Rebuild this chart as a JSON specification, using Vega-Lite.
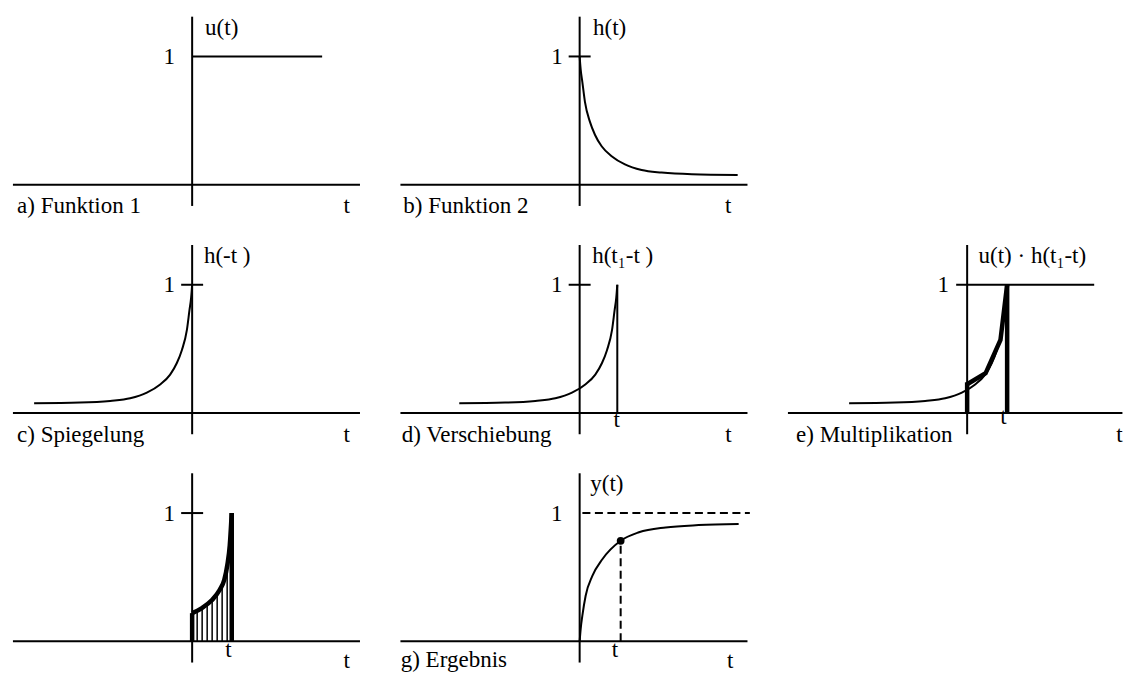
{
  "$schema": "https://vega.github.io/schema/vega-lite/v6.json",
  "padding": 0,
  "background": "white",
  "bounds": "flush",
  "spacing": {"row": 15.3, "column": 38.5},
  "config": {"view": {"stroke": null}},
  "data": {"values": [
    {"p":"a","r":1,"c":1,"k":"ax","t":-4.57,"v":0,"t2":4.28,"v2":0},
    {"p":"a","r":1,"c":1,"k":"ax","t":0,"v":-0.165,"t2":0,"v2":1.31},
    {"p":"a","r":1,"c":1,"k":"ax","t":0,"v":1,"t2":3.315,"v2":1},
    {"p":"a","r":1,"c":1,"k":"txtL","t":0.33,"v":1.17,"s":"u(t)"},
    {"p":"a","r":1,"c":1,"k":"txtL","t":-4.466,"v":-0.222,"s":"a) Funktion 1"},
    {"p":"a","r":1,"c":1,"k":"txtR","t":-0.44,"v":0.94,"s":"1"},
    {"p":"a","r":1,"c":1,"k":"txtC","t":3.943,"v":-0.222,"s":"t"},

    {"p":"b","r":1,"c":2,"k":"ax","t":-4.57,"v":0,"t2":4.28,"v2":0},
    {"p":"b","r":1,"c":2,"k":"ax","t":0,"v":-0.165,"t2":0,"v2":1.31},
    {"p":"b","r":1,"c":2,"k":"ax","t":-0.28,"v":1,"t2":0.28,"v2":1},
    {"p":"b","r":1,"c":2,"k":"txtL","t":0.34,"v":1.17,"s":"h(t)"},
    {"p":"b","r":1,"c":2,"k":"txtL","t":-4.496,"v":-0.222,"s":"b) Funktion 2"},
    {"p":"b","r":1,"c":2,"k":"txtR","t":-0.43,"v":0.94,"s":"1"},
    {"p":"b","r":1,"c":2,"k":"txtC","t":3.785,"v":-0.222,"s":"t"},
    {"p":"b","r":1,"c":2,"k":"curve","t":0,"v":1.0},
    {"p":"b","r":1,"c":2,"k":"curve","t":0.026,"v":0.90},
    {"p":"b","r":1,"c":2,"k":"curve","t":0.069,"v":0.80},
    {"p":"b","r":1,"c":2,"k":"curve","t":0.135,"v":0.646},
    {"p":"b","r":1,"c":2,"k":"curve","t":0.263,"v":0.49},
    {"p":"b","r":1,"c":2,"k":"curve","t":0.39,"v":0.39},
    {"p":"b","r":1,"c":2,"k":"curve","t":0.561,"v":0.30},
    {"p":"b","r":1,"c":2,"k":"curve","t":0.816,"v":0.223},
    {"p":"b","r":1,"c":2,"k":"curve","t":1.155,"v":0.159},
    {"p":"b","r":1,"c":2,"k":"curve","t":1.58,"v":0.115},
    {"p":"b","r":1,"c":2,"k":"curve","t":2.09,"v":0.095},
    {"p":"b","r":1,"c":2,"k":"curve","t":2.86,"v":0.082},
    {"p":"b","r":1,"c":2,"k":"curve","t":4.03,"v":0.077},

    {"p":"c","r":2,"c":1,"k":"ax","t":-4.57,"v":0,"t2":4.28,"v2":0},
    {"p":"c","r":2,"c":1,"k":"ax","t":0,"v":-0.165,"t2":0,"v2":1.31},
    {"p":"c","r":2,"c":1,"k":"ax","t":-0.28,"v":1,"t2":0.28,"v2":1},
    {"p":"c","r":2,"c":1,"k":"txtL","t":0.30,"v":1.17,"s":"h(-t )"},
    {"p":"c","r":2,"c":1,"k":"txtL","t":-4.466,"v":-0.228,"s":"c) Spiegelung"},
    {"p":"c","r":2,"c":1,"k":"txtR","t":-0.44,"v":0.94,"s":"1"},
    {"p":"c","r":2,"c":1,"k":"txtC","t":3.943,"v":-0.228,"s":"t"},
    {"p":"c","r":2,"c":1,"k":"curve","t":0,"v":1.0},
    {"p":"c","r":2,"c":1,"k":"curve","t":-0.026,"v":0.90},
    {"p":"c","r":2,"c":1,"k":"curve","t":-0.069,"v":0.80},
    {"p":"c","r":2,"c":1,"k":"curve","t":-0.135,"v":0.646},
    {"p":"c","r":2,"c":1,"k":"curve","t":-0.263,"v":0.49},
    {"p":"c","r":2,"c":1,"k":"curve","t":-0.39,"v":0.39},
    {"p":"c","r":2,"c":1,"k":"curve","t":-0.561,"v":0.30},
    {"p":"c","r":2,"c":1,"k":"curve","t":-0.816,"v":0.223},
    {"p":"c","r":2,"c":1,"k":"curve","t":-1.155,"v":0.159},
    {"p":"c","r":2,"c":1,"k":"curve","t":-1.58,"v":0.115},
    {"p":"c","r":2,"c":1,"k":"curve","t":-2.09,"v":0.095},
    {"p":"c","r":2,"c":1,"k":"curve","t":-2.86,"v":0.082},
    {"p":"c","r":2,"c":1,"k":"curve","t":-4.03,"v":0.077},

    {"p":"d","r":2,"c":2,"k":"ax","t":-4.57,"v":0,"t2":4.28,"v2":0},
    {"p":"d","r":2,"c":2,"k":"ax","t":0,"v":-0.165,"t2":0,"v2":1.31},
    {"p":"d","r":2,"c":2,"k":"ax","t":-0.28,"v":1,"t2":0.28,"v2":1},
    {"p":"d","r":2,"c":2,"k":"ax","t":0.96,"v":0,"t2":0.96,"v2":1},
    {"p":"d","r":2,"c":2,"k":"txtL","t":0.32,"v":1.17,"s":"h(t₁-t )"},
    {"p":"d","r":2,"c":2,"k":"txtL","t":-4.537,"v":-0.228,"s":"d) Verschiebung"},
    {"p":"d","r":2,"c":2,"k":"txtR","t":-0.44,"v":0.94,"s":"1"},
    {"p":"d","r":2,"c":2,"k":"txtC","t":3.792,"v":-0.228,"s":"t"},
    {"p":"d","r":2,"c":2,"k":"txtC","t":0.946,"v":-0.11,"s":"t"},
    {"p":"d","r":2,"c":2,"k":"curve","t":0.96,"v":1.0},
    {"p":"d","r":2,"c":2,"k":"curve","t":0.934,"v":0.90},
    {"p":"d","r":2,"c":2,"k":"curve","t":0.891,"v":0.80},
    {"p":"d","r":2,"c":2,"k":"curve","t":0.825,"v":0.646},
    {"p":"d","r":2,"c":2,"k":"curve","t":0.697,"v":0.49},
    {"p":"d","r":2,"c":2,"k":"curve","t":0.57,"v":0.39},
    {"p":"d","r":2,"c":2,"k":"curve","t":0.399,"v":0.30},
    {"p":"d","r":2,"c":2,"k":"curve","t":0.144,"v":0.223},
    {"p":"d","r":2,"c":2,"k":"curve","t":-0.195,"v":0.159},
    {"p":"d","r":2,"c":2,"k":"curve","t":-0.62,"v":0.115},
    {"p":"d","r":2,"c":2,"k":"curve","t":-1.13,"v":0.095},
    {"p":"d","r":2,"c":2,"k":"curve","t":-1.90,"v":0.082},
    {"p":"d","r":2,"c":2,"k":"curve","t":-3.07,"v":0.077},

    {"p":"e","r":2,"c":3,"k":"ax","t":-4.57,"v":0,"t2":3.96,"v2":0},
    {"p":"e","r":2,"c":3,"k":"ax","t":0,"v":-0.165,"t2":0,"v2":1.31},
    {"p":"e","r":2,"c":3,"k":"ax","t":-0.28,"v":1,"t2":3.24,"v2":1},
    {"p":"e","r":2,"c":3,"k":"thick","t":0,"v":0,"t2":0,"v2":0.24},
    {"p":"e","r":2,"c":3,"k":"thick","t":1.02,"v":0,"t2":1.02,"v2":1},
    {"p":"e","r":2,"c":3,"k":"txtL","t":0.29,"v":1.17,"s":"u(t) · h(t₁-t)"},
    {"p":"e","r":2,"c":3,"k":"txtL","t":-4.364,"v":-0.228,"s":"e) Multiplikation"},
    {"p":"e","r":2,"c":3,"k":"txtR","t":-0.46,"v":0.94,"s":"1"},
    {"p":"e","r":2,"c":3,"k":"txtC","t":3.882,"v":-0.228,"s":"t"},
    {"p":"e","r":2,"c":3,"k":"txtC","t":0.923,"v":-0.085,"s":"t"},
    {"p":"e","r":2,"c":3,"k":"curve","t":1.02,"v":1.0},
    {"p":"e","r":2,"c":3,"k":"curve","t":0.994,"v":0.90},
    {"p":"e","r":2,"c":3,"k":"curve","t":0.951,"v":0.80},
    {"p":"e","r":2,"c":3,"k":"curve","t":0.885,"v":0.646},
    {"p":"e","r":2,"c":3,"k":"curve","t":0.757,"v":0.49},
    {"p":"e","r":2,"c":3,"k":"curve","t":0.63,"v":0.39},
    {"p":"e","r":2,"c":3,"k":"curve","t":0.459,"v":0.30},
    {"p":"e","r":2,"c":3,"k":"curve","t":0.204,"v":0.223},
    {"p":"e","r":2,"c":3,"k":"curve","t":-0.135,"v":0.159},
    {"p":"e","r":2,"c":3,"k":"curve","t":-0.56,"v":0.115},
    {"p":"e","r":2,"c":3,"k":"curve","t":-1.07,"v":0.095},
    {"p":"e","r":2,"c":3,"k":"curve","t":-1.84,"v":0.082},
    {"p":"e","r":2,"c":3,"k":"curve","t":-3.01,"v":0.077},
    {"p":"e","r":2,"c":3,"k":"tpoly","t":0,"v":0.225},
    {"p":"e","r":2,"c":3,"k":"tpoly","t":0.47,"v":0.31},
    {"p":"e","r":2,"c":3,"k":"tpoly","t":0.85,"v":0.57},
    {"p":"e","r":2,"c":3,"k":"tpoly","t":1.02,"v":1.0},

    {"p":"f","r":3,"c":1,"k":"ax","t":-4.57,"v":0,"t2":4.28,"v2":0},
    {"p":"f","r":3,"c":1,"k":"ax","t":0,"v":-0.165,"t2":0,"v2":1.31},
    {"p":"f","r":3,"c":1,"k":"ax","t":-0.28,"v":1,"t2":0.28,"v2":1},
    {"p":"f","r":3,"c":1,"k":"thick","t":0,"v":0,"t2":0,"v2":0.22},
    {"p":"f","r":3,"c":1,"k":"thick","t":1.01,"v":0,"t2":1.01,"v2":1},
    {"p":"f","r":3,"c":1,"k":"hatch","t":0.128,"v":0,"t2":0.128,"v2":0.24},
    {"p":"f","r":3,"c":1,"k":"hatch","t":0.255,"v":0,"t2":0.255,"v2":0.262},
    {"p":"f","r":3,"c":1,"k":"hatch","t":0.383,"v":0,"t2":0.383,"v2":0.29},
    {"p":"f","r":3,"c":1,"k":"hatch","t":0.51,"v":0,"t2":0.51,"v2":0.322},
    {"p":"f","r":3,"c":1,"k":"hatch","t":0.638,"v":0,"t2":0.638,"v2":0.37},
    {"p":"f","r":3,"c":1,"k":"hatch","t":0.765,"v":0,"t2":0.765,"v2":0.44},
    {"p":"f","r":3,"c":1,"k":"hatch","t":0.893,"v":0,"t2":0.893,"v2":0.59},
    {"p":"f","r":3,"c":1,"k":"txtR","t":-0.44,"v":0.94,"s":"1"},
    {"p":"f","r":3,"c":1,"k":"txtC","t":3.943,"v":-0.21,"s":"t"},
    {"p":"f","r":3,"c":1,"k":"txtC","t":0.924,"v":-0.12,"s":"t"},
    {"p":"f","r":3,"c":1,"k":"tcurve","t":0,"v":0.22},
    {"p":"f","r":3,"c":1,"k":"tcurve","t":0.25,"v":0.26},
    {"p":"f","r":3,"c":1,"k":"tcurve","t":0.5,"v":0.32},
    {"p":"f","r":3,"c":1,"k":"tcurve","t":0.7,"v":0.40},
    {"p":"f","r":3,"c":1,"k":"tcurve","t":0.82,"v":0.48},
    {"p":"f","r":3,"c":1,"k":"tcurve","t":0.9,"v":0.60},
    {"p":"f","r":3,"c":1,"k":"tcurve","t":0.96,"v":0.75},
    {"p":"f","r":3,"c":1,"k":"tcurve","t":1.01,"v":1.0},

    {"p":"g","r":3,"c":2,"k":"ax","t":-4.57,"v":0,"t2":4.28,"v2":0},
    {"p":"g","r":3,"c":2,"k":"ax","t":0,"v":-0.165,"t2":0,"v2":1.31},
    {"p":"g","r":3,"c":2,"k":"dash","t":0.07,"v":1,"t2":4.34,"v2":1},
    {"p":"g","r":3,"c":2,"k":"dash","t":1.046,"v":0,"t2":1.046,"v2":0.784},
    {"p":"g","r":3,"c":2,"k":"txtL","t":0.27,"v":1.17,"s":"y(t)"},
    {"p":"g","r":3,"c":2,"k":"txtL","t":-4.563,"v":-0.2,"s":"g) Ergebnis"},
    {"p":"g","r":3,"c":2,"k":"txtR","t":-0.44,"v":0.94,"s":"1"},
    {"p":"g","r":3,"c":2,"k":"txtC","t":3.836,"v":-0.21,"s":"t"},
    {"p":"g","r":3,"c":2,"k":"txtC","t":0.903,"v":-0.12,"s":"t"},
    {"p":"g","r":3,"c":2,"k":"curve","t":0,"v":0},
    {"p":"g","r":3,"c":2,"k":"curve","t":0.026,"v":0.096},
    {"p":"g","r":3,"c":2,"k":"curve","t":0.069,"v":0.2},
    {"p":"g","r":3,"c":2,"k":"curve","t":0.153,"v":0.356},
    {"p":"g","r":3,"c":2,"k":"curve","t":0.324,"v":0.51},
    {"p":"g","r":3,"c":2,"k":"curve","t":0.579,"v":0.64},
    {"p":"g","r":3,"c":2,"k":"curve","t":1.046,"v":0.784},
    {"p":"g","r":3,"c":2,"k":"curve","t":1.512,"v":0.85},
    {"p":"g","r":3,"c":2,"k":"curve","t":2.193,"v":0.888},
    {"p":"g","r":3,"c":2,"k":"curve","t":3.035,"v":0.906},
    {"p":"g","r":3,"c":2,"k":"curve","t":4.055,"v":0.914},
    {"p":"g","r":3,"c":2,"k":"dot","t":1.046,"v":0.784}
  ]},
  "facet": {
    "row": {"field": "r", "type": "ordinal", "header": null},
    "column": {"field": "c", "type": "ordinal", "header": null}
  },
  "spec": {
    "width": 349,
    "height": 213,
    "encoding": {
      "x": {"field": "t", "type": "quantitative", "scale": {"domain": [-4.9, 4.0], "nice": false, "zero": false}, "axis": null},
      "y": {"field": "v", "type": "quantitative", "scale": {"domain": [-0.22, 1.44], "nice": false, "zero": false}, "axis": null}
    },
    "layer": [
      {"transform": [{"filter": "datum.k === 'ax'"}],
       "mark": {"type": "rule", "color": "black", "strokeWidth": 2},
       "encoding": {"x2": {"field": "t2"}, "y2": {"field": "v2"}}},
      {"transform": [{"filter": "datum.k === 'thick'"}],
       "mark": {"type": "rule", "color": "black", "strokeWidth": 4.5},
       "encoding": {"x2": {"field": "t2"}, "y2": {"field": "v2"}}},
      {"transform": [{"filter": "datum.k === 'hatch'"}],
       "mark": {"type": "rule", "color": "black", "strokeWidth": 1.5},
       "encoding": {"x2": {"field": "t2"}, "y2": {"field": "v2"}}},
      {"transform": [{"filter": "datum.k === 'dash'"}],
       "mark": {"type": "rule", "color": "black", "strokeWidth": 2, "strokeDash": [8, 4.5]},
       "encoding": {"x2": {"field": "t2"}, "y2": {"field": "v2"}}},
      {"transform": [{"filter": "datum.k === 'curve'"}],
       "mark": {"type": "line", "color": "black", "strokeWidth": 2, "interpolate": "monotone"},
       "encoding": {}},
      {"transform": [{"filter": "datum.k === 'tcurve'"}],
       "mark": {"type": "line", "color": "black", "strokeWidth": 4.5, "interpolate": "monotone"},
       "encoding": {}},
      {"transform": [{"filter": "datum.k === 'tpoly'"}],
       "mark": {"type": "line", "color": "black", "strokeWidth": 4.5, "interpolate": "linear"},
       "encoding": {}},
      {"transform": [{"filter": "datum.k === 'dot'"}],
       "mark": {"type": "point", "filled": true, "color": "black", "size": 60, "opacity": 1},
       "encoding": {}},
      {"transform": [{"filter": "datum.k === 'txtL'"}],
       "mark": {"type": "text", "align": "left", "baseline": "alphabetic", "font": "Liberation Serif", "fontSize": 23, "color": "black"},
       "encoding": {"text": {"field": "s"}}},
      {"transform": [{"filter": "datum.k === 'txtR'"}],
       "mark": {"type": "text", "align": "right", "baseline": "alphabetic", "font": "Liberation Serif", "fontSize": 23, "color": "black"},
       "encoding": {"text": {"field": "s"}}},
      {"transform": [{"filter": "datum.k === 'txtC'"}],
       "mark": {"type": "text", "align": "center", "baseline": "alphabetic", "font": "Liberation Serif", "fontSize": 23, "color": "black"},
       "encoding": {"text": {"field": "s"}}}
    ]
  }
}
